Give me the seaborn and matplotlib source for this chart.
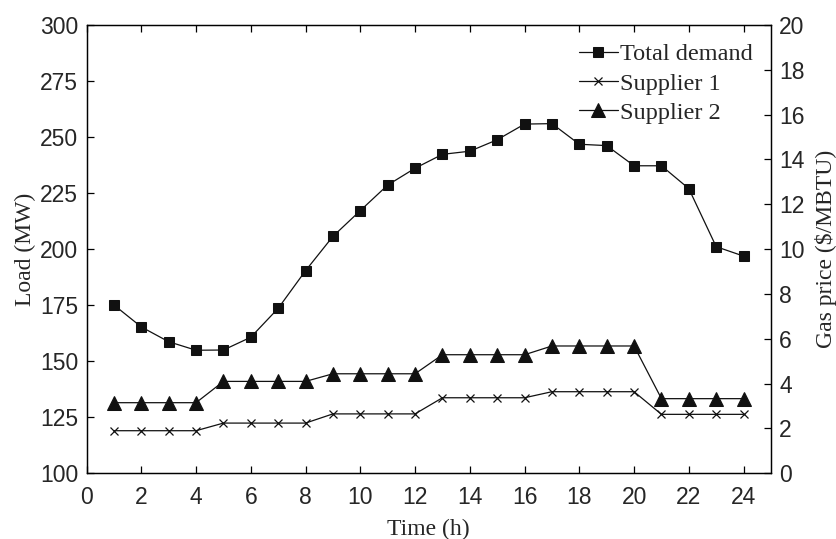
import matplotlib
matplotlib.use("Agg")
import matplotlib.pyplot as plt
import seaborn as sns
import pandas as pd

hours = list(range(1, 25))
total_demand = [175.1, 165.3, 158.7, 154.9, 155.0, 160.7, 173.6, 190.4, 205.7, 217.2,
                228.6, 236.1, 242.3, 243.7, 248.8, 255.8, 256.0, 246.8, 246.2, 237.2,
                237.2, 227.0, 201.1, 196.9]
supplier1 = [1.90, 1.90, 1.90, 1.90, 2.24, 2.24, 2.24, 2.24, 2.65, 2.65, 2.65, 2.65,
             3.37, 3.37, 3.37, 3.37, 3.64, 3.64, 3.64, 3.64, 2.63, 2.63, 2.63, 2.63]
supplier2 = [3.15, 3.15, 3.15, 3.15, 4.10, 4.10, 4.10, 4.10, 4.44, 4.44, 4.44, 4.44,
             5.29, 5.29, 5.29, 5.29, 5.68, 5.68, 5.68, 5.68, 3.33, 3.33, 3.33, 3.33]
x_ticks = list(range(0, 25, 2))
left_ticks = list(range(100, 301, 25))
right_ticks = list(range(0, 21, 2))

df = pd.DataFrame({"Time": hours, "Total": total_demand, "S1": supplier1, "S2": supplier2})

sns.set_style("ticks")
plt.rcParams["font.family"] = ["Liberation Sans", "DejaVu Sans"]

fig = plt.figure(figsize=(8.37, 5.39), dpi=100)
ax = fig.add_axes([0.1034, 0.1219, 0.9211 - 0.1034, 0.9536 - 0.1219])
ax2 = ax.twinx()

lc = "#111111"
sns.lineplot(data=df, x="Time", y="Total", ax=ax, color=lc, marker="s", markersize=7.5,
             markeredgecolor=lc, linewidth=0.9, label="Total demand", legend=False)
sns.lineplot(data=df, x="Time", y="S1", ax=ax2, color=lc, marker="x", markersize=6,
             markeredgewidth=0.9, markeredgecolor=lc, linewidth=0.9, label="Supplier 1", legend=False)
sns.lineplot(data=df, x="Time", y="S2", ax=ax2, color=lc, marker="^", markersize=10,
             markeredgecolor=lc, linewidth=0.9, label="Supplier 2", legend=False)

ax.set_xlim(0, 25)
ax.set_ylim(100, 300)
ax2.set_ylim(0, 20)
ax.set_xticks(x_ticks)
ax.set_yticks(left_ticks)
ax2.set_yticks(right_ticks)

for a in (ax, ax2):
    for s in a.spines.values():
        s.set_visible(True)
        s.set_color("black")
        s.set_linewidth(0.9)

tfs = 16.5
ax.tick_params(axis="x", direction="in", length=5, width=0.9, top=True, labelsize=tfs, pad=9, color="black")
ax.tick_params(axis="y", direction="in", length=5, width=0.9, right=False, labelsize=tfs, pad=6, color="black")
ax2.tick_params(axis="y", direction="in", length=5, width=0.9, labelsize=tfs, pad=6, color="black")

serif = ["Liberation Serif", "DejaVu Serif"]
ax.set_xlabel("Time (h)", family=serif, fontsize=17, labelpad=7)
ax.set_ylabel("Load (MW)", family=serif, fontsize=17, labelpad=3)
ax2.set_ylabel(r"Gas price (\$/MBTU)", family=serif, fontsize=17, labelpad=7, rotation=90)

h1, l1 = ax.get_legend_handles_labels()
h2, l2 = ax2.get_legend_handles_labels()
leg = ax2.legend(h1 + h2, l1 + l2, loc="upper right", bbox_to_anchor=(0.981, 0.97),
                 prop={"family": serif, "size": 17.5}, frameon=False, handlelength=1.6,
                 handletextpad=0.1, labelspacing=0.3, borderaxespad=0.0, borderpad=0.2)

fig.savefig("out.png", dpi=100)
